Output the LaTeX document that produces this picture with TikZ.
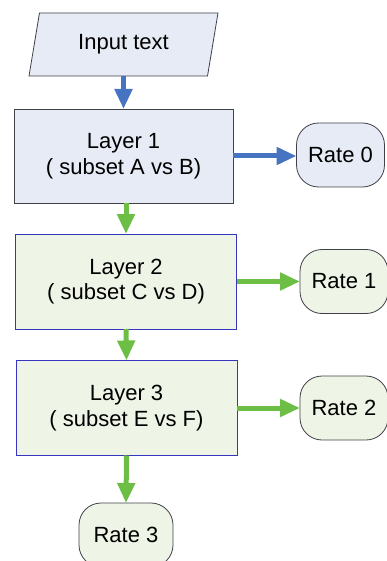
\documentclass[tikz,border=0pt]{standalone}
\usepackage{fontspec}
\setmainfont{Liberation Sans}
\usetikzlibrary{shapes.geometric,arrows.meta}
\definecolor{bfill}{HTML}{E6EBF5}
\definecolor{gfill}{HTML}{EEF5E6}
\definecolor{bedge}{HTML}{404048}
\definecolor{ledge}{HTML}{3535C0}
\definecolor{barrow}{HTML}{4674C2}
\definecolor{garrow}{HTML}{6DBE45}
\tikzset{
  base/.style={font=\fontsize{22}{25.5}\selectfont, align=center, inner sep=0pt, outer sep=0pt, line width=0.8pt},
  inbox/.style={base, trapezium, trapezium left angle=62, trapezium right angle=118, trapezium stretches body, minimum width=189pt, minimum height=63pt, draw=bedge, fill=bfill},
  layer/.style={base, rectangle, draw=ledge, fill=gfill, minimum width=221pt, minimum height=95pt},
  layerb/.style={base, rectangle, draw=bedge, fill=bfill, minimum width=219pt, minimum height=94pt},
  rate/.style={base, rectangle, rounded corners=22pt, draw=bedge, fill=gfill, minimum width=88pt, minimum height=64pt},
  rateb/.style={rate, fill=bfill},
  barr/.style={draw=barrow, line width=5pt, -{Triangle[width=17pt,length=20pt]}, color=barrow},
  garr/.style={draw=garrow, line width=5pt, -{Triangle[width=17pt,length=20pt]}, color=garrow},
}
\begin{document}
\begin{tikzpicture}[x=1pt,y=-1pt]
\useasboundingbox (0,0) rectangle (387,561);
\clip (0,0) rectangle (387,561);
\node[inbox] (inp) at (123.5,44.5) {Input text};
\node[layerb] (L1) at (123.5,156) {Layer 1\\( subset A vs B)};
\node[layer] (L2) at (126,281.5) {Layer 2\\( subset C vs D)};
\node[layer] (L3) at (126.5,408) {Layer 3\\( subset E vs F)};
\node[rateb] (R0) at (340.5,155) {Rate 0};
\node[rate] (R1) at (344,281.5) {Rate 1};
\node[rate] (R2) at (344,408) {Rate 2};
\node[rate, minimum width=94pt] (R3) at (126,535) {Rate 3};
\draw[barr] (inp.south -| L1.north) -- (L1.north);
\draw[barr] (L1.east) -- (L1.east -| R0.west);
\draw[garr] (L1.south -| L2.north) -- (L2.north);
\draw[garr] (L2.east) -- (R1.west);
\draw[garr] (L2.south) -- (L3.north);
\draw[garr] (L3.east) -- (R2.west);
\draw[garr] (L3.south) -- (R3.north);
\end{tikzpicture}
\end{document}
